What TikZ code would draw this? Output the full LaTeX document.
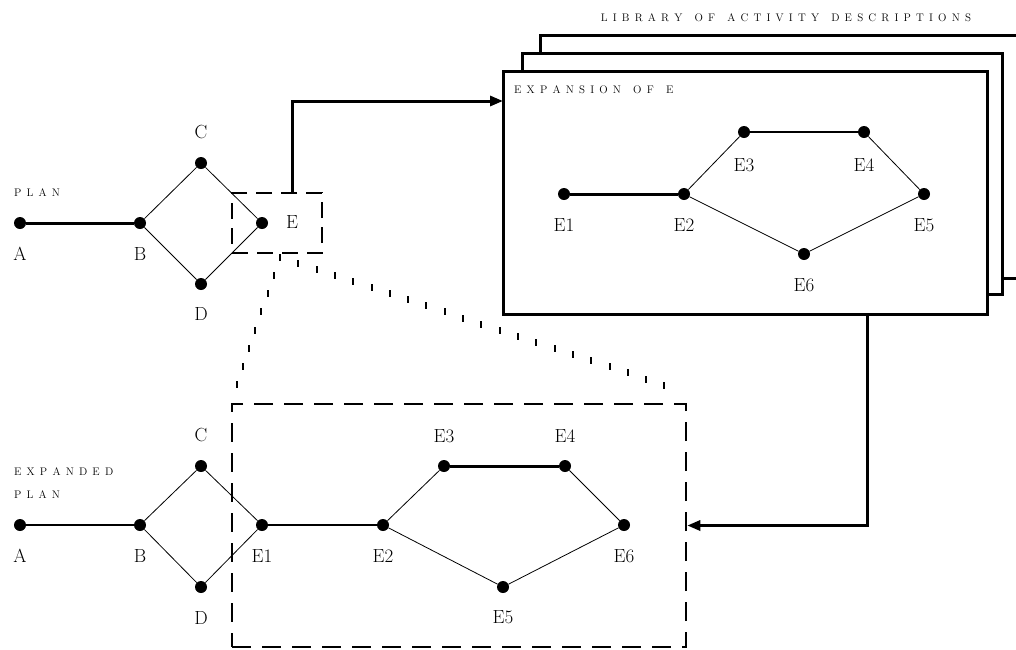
\documentclass[tikz,border=0pt]{standalone}
\usetikzlibrary{arrows.meta,decorations.markings}
\makeatletter
\newcommand\lsword[1]{\@tfor\lsch:=#1\do{\lsch\kern5.2pt\relax}}
\def\lsloop#1 #2\@nil{\lsword{#1}\ifx\relax#2\relax\unkern\else\hskip7pt\relax\lsloop#2\@nil\fi}
\newcommand\lsall[1]{\lsloop#1 \@nil}
\makeatother
\begin{document}
\begin{tikzpicture}[x=1pt,y=-1pt,
  dot/.style={circle,fill=black,inner sep=0pt,minimum size=12pt},
  lbl/.style={font=\fontsize{19}{22}\selectfont,inner sep=0pt},
  captext/.style={font=\fontsize{11}{13}\selectfont,inner sep=0pt,anchor=west},
  edgethin/.style={line width=0.8pt},
  edgemid/.style={line width=2pt},
  edgethick/.style={line width=3pt},
  boxline/.style={line width=3pt},
  dashbox/.style={draw,line width=2.5pt,dash pattern=on 19pt off 11pt,inner sep=0pt},
  flow/.style={line width=3pt,-{Triangle[length=13pt,width=10pt]}},
  ticks/.style={decoration={markings,
     mark=between positions 0 and 1 step 19.3pt with {\pgftransformresetnontranslations
       \fill (-1pt,-3.5pt) rectangle (1pt,3.5pt);}},decorate}
]
\useasboundingbox (0,0) rectangle (1016,649);

% ---------------- PLAN ----------------
\node[captext] (plantitle) at (14,193) {\lsall{PLAN}};
\node[dot] (A) at (20,223) {};
\node[dot] (B) at (140,223) {};
\node[dot] (C) at (201,163) {};
\node[dot] (D) at (201,284) {};
\node[dot] (E) at (262,223) {};
\node[lbl] (lA) at (20,254) {A};
\node[lbl] (lB) at (140,254) {B};
\node[lbl] (lC) at (201,132) {C};
\node[lbl] (lD) at (201,314) {D};
\node[lbl] (lE) at (292,222) {E};
\draw[edgethick] (A) -- (B);
\draw[edgethin] (B) -- (C) (C) -- (E) (B) -- (D) (D) -- (E);
\node[dashbox,dash pattern=on 16pt off 9pt,minimum width=90pt,minimum height=60pt] (boxE) at (277,223) {};

% arrow to library
\coordinate (eTop) at (292,193);
\coordinate (libIn) at (503,101);
\draw[flow] (eTop) |- (libIn);

% ---------------- LIBRARY ----------------
\node[captext,anchor=center] (libtitle) at (786,18) {\lsall{LIBRARY OF ACTIVITY DESCRIPTIONS}};
\draw[boxline] (540,53) |- (1030,35);
\draw[boxline] (1002,278) -- (1030,278);
\draw[boxline] (522,71) |- (1002,53) |- (987,294);
\node[draw,line width=3pt,fill=white,minimum width=484pt,minimum height=243pt,inner sep=0pt] (expbox) at (745,192.5) {};
\node[captext] (exptitle) at (514,90) {\lsall{EXPANSION OF E}};

\node[dot] (X1) at (564,194) {};
\node[dot] (X2) at (684,194) {};
\node[dot] (X3) at (744,132) {};
\node[dot] (X4) at (864,132) {};
\node[dot] (X5) at (924,194) {};
\node[dot] (X6) at (804,254) {};
\node[lbl] (lX1) at (564,225) {E1};
\node[lbl] (lX2) at (684,225) {E2};
\node[lbl] (lX3) at (744,165) {E3};
\node[lbl] (lX4) at (864,165) {E4};
\node[lbl] (lX5) at (924,225) {E5};
\node[lbl] (lX6) at (804,285) {E6};
\draw[edgethick] (X1) -- (X2);
\draw[edgemid] (X3) -- (X4);
\draw[edgethin] (X2) -- (X3) (X4) -- (X5) (X2) -- (X6) (X6) -- (X5);

% ---------------- EXPANDED PLAN ----------------
\node[captext] (exptitle1) at (14,472) {\lsall{EXPANDED}};
\node[captext] (exptitle2) at (14,495) {\lsall{PLAN}};
\node[dot] (A2) at (20,525) {};
\node[dot] (B2) at (140,525) {};
\node[dot] (C2) at (201,466) {};
\node[dot] (D2) at (201,587) {};
\node[dot] (F1) at (262,525) {};
\node[dot] (F2) at (383,525) {};
\node[dot] (F3) at (444,466) {};
\node[dot] (F4) at (565,466) {};
\node[dot] (F6) at (624,525) {};
\node[dot] (F5) at (503,587) {};
\node[lbl] (lA2) at (20,556) {A};
\node[lbl] (lB2) at (140,556) {B};
\node[lbl] (lC2) at (201,435) {C};
\node[lbl] (lD2) at (201,618) {D};
\node[lbl] (lF1) at (262,556) {E1};
\node[lbl] (lF2) at (383,556) {E2};
\node[lbl] (lF3) at (444,436) {E3};
\node[lbl] (lF4) at (565,436) {E4};
\node[lbl] (lF6) at (624,556) {E6};
\node[lbl] (lF5) at (503,617) {E5};
\draw[edgemid] (A2) -- (B2);
\draw[edgemid] (F1) -- (F2);
\draw[edgethick] (F3) -- (F4);
\draw[edgethin] (B2) -- (C2) (C2) -- (F1) (B2) -- (D2) (D2) -- (F1)
  (F2) -- (F3) (F4) -- (F6) (F2) -- (F5) (F5) -- (F6);
\node[dashbox,minimum width=454pt,minimum height=243pt] (bigbox) at (459,525.5) {};

% zoom lines
\coordinate (zA) at (280,257);
\coordinate (zR) at (682,391);
\draw[ticks] (zA) -- (bigbox.north west);
\draw[ticks] (zA) -- (zR);

% arrow from library to expanded plan
\coordinate (expOut) at (867,314);
\draw[flow] (expOut) |- (bigbox.east);
\end{tikzpicture}
\end{document}
